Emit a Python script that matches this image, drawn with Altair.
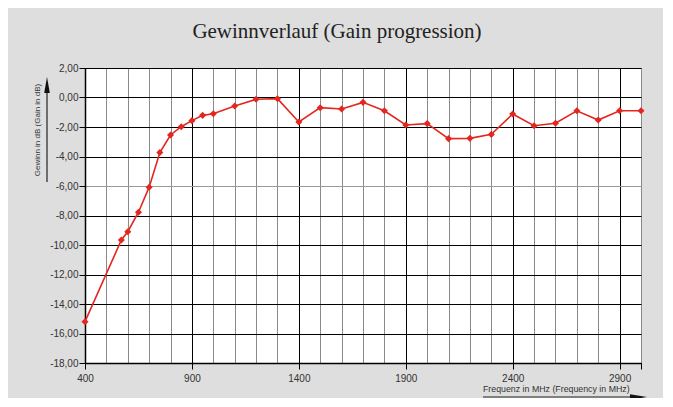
import altair as alt
import pandas as pd

# Data
freq = [400, 570, 600, 650, 700, 750, 800, 850, 900, 950, 1000, 1100, 1200, 1300,
        1400, 1500, 1600, 1700, 1800, 1900, 2000, 2100, 2200, 2300, 2400, 2500,
        2600, 2700, 2800, 2900, 3000]
gain = [-15.2, -9.66, -9.1, -7.78, -6.08, -3.73, -2.54, -1.98, -1.57, -1.21, -1.10,
        -0.58, -0.12, -0.08, -1.66, -0.69, -0.78, -0.33, -0.90, -1.86, -1.77, -2.79,
        -2.77, -2.50, -1.12, -1.91, -1.75, -0.90, -1.53, -0.90, -0.90]

title_text = ["Gewinnverlauf (Gain progression)"]
x_title = ["Frequenz in MHz (Frequency in MHz)"]
y_title = ["Gewinn in dB (Gain in dB)"]
x_ticks = list(range(400, 3001, 100))
y_ticks = list(range(-18, 3, 2))

df = pd.DataFrame({"f": freq, "g": gain})

RED = "#e3261f"
SANS = "Liberation Sans"

x_scale = alt.Scale(domain=[400, 3000], nice=False, zero=False)
y_scale = alt.Scale(domain=[-18, 2], nice=False, zero=False)

major = "datum.value % 500 == 400"

x_axis = alt.Axis(
    values=x_ticks,
    title=None,
    labelExpr=f"{major} ? datum.value : ''",
    labelOverlap=False,
    grid=True,
    gridColor={"condition": {"test": major, "value": "#000000"}, "value": "#8a8a8a"},
    gridWidth=1,
    tickOpacity={"condition": {"test": f"{major} || datum.value == 3000", "value": 1}, "value": 0},
    tickColor="#000",
    tickSize=6,
    labelPadding=4,
    labelFont=SANS,
    labelFontSize=10,
    labelColor="#333",
    domainColor="#000",
    domainWidth=1.5,
    labelFlush=False,
)

y_axis = alt.Axis(
    values=y_ticks,
    title=None,
    labelExpr="(datum.value < 0 ? '-' : '') + replace(format(abs(datum.value), '.2f'), '.', ',')",
    labelOverlap=False,
    grid=True,
    gridColor={"condition": {"test": "datum.value == -6", "value": "#9a9a9a"}, "value": "#000000"},
    gridWidth=1.2,
    tickColor="#000",
    tickSize=6,
    labelPadding=1,
    labelFont=SANS,
    labelFontSize=10,
    labelColor="#333",
    domainColor="#000",
    domainWidth=1.5,
    labelFlush=False,
)

base = alt.Chart(df).encode(
    x=alt.X("f:Q", scale=x_scale, axis=x_axis),
    y=alt.Y("g:Q", scale=y_scale, axis=y_axis),
)

line = base.mark_line(color=RED, strokeWidth=1.6)
pts = base.mark_point(shape="diamond", filled=True, size=50, color=RED, opacity=1)

title = alt.Chart(pd.DataFrame({"t": title_text})).mark_text(
    font="Liberation Serif", fontSize=21, color="#222", align="center", baseline="alphabetic"
).encode(x=alt.value(252), y=alt.value(-30.5), text="t:N")

xt = alt.Chart(pd.DataFrame({"t": x_title})).mark_text(
    font=SANS, fontSize=8.8, color="#333", align="left", baseline="middle"
).encode(x=alt.value(398), y=alt.value(321), text="t:N")

yt = alt.Chart(pd.DataFrame({"t": y_title})).mark_text(
    font=SANS, fontSize=8, color="#333", align="center", baseline="middle", angle=270
).encode(x=alt.value(-47), y=alt.value(62), text="t:N")

arrow_df = pd.DataFrame({"a": [0]})
x_arrow_line = alt.Chart(arrow_df).mark_rule(color="#222", strokeWidth=1.2).encode(
    x=alt.value(398), x2=alt.value(546), y=alt.value(329)
)
x_arrow_head = alt.Chart(arrow_df).mark_point(
    shape="M-1,-0.33L1,0L-1,0.33Z", filled=True, color="#111", size=289, opacity=1
).encode(x=alt.value(553.5), y=alt.value(329))

y_arrow_line = alt.Chart(arrow_df).mark_rule(color="#222", strokeWidth=1.2).encode(
    x=alt.value(-38), y=alt.value(22), y2=alt.value(114)
)
y_arrow_head = alt.Chart(arrow_df).mark_point(
    shape="M-0.35,1L0,-1L0.35,1Z", filled=True, color="#111", size=256, opacity=1
).encode(x=alt.value(-38), y=alt.value(17))

chart = alt.layer(
    line, pts, title, xt, yt, x_arrow_line, x_arrow_head, y_arrow_line, y_arrow_head
).properties(
    width=556,
    height=295,
    autosize="none",
    padding={"left": 77, "top": 60, "right": 22, "bottom": 35},
    background="#dedede",
).configure_view(
    stroke="#555", strokeWidth=1, fill="white"
).configure_axis(
    labelOverlap=False
)

chart.save("out.html", embed_options={"renderer": "svg", "actions": False})
